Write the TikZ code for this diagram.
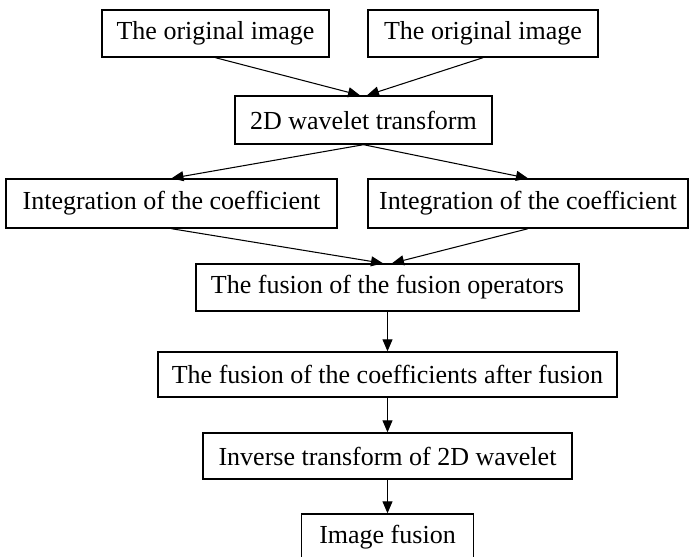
\documentclass[tikz,border=0pt]{standalone}
\usepackage{fontspec}
\setmainfont{Liberation Serif}
\usetikzlibrary{arrows.meta}

\begin{document}
\begin{tikzpicture}[
  x=0.02cm,y=-0.02cm,
  >={Triangle[length=2.4mm,width=2mm]},
  box/.style={draw,rectangle,minimum height=0.94cm,inner sep=0pt,line width=0.8pt,font=\fontsize{14.8}{17}\selectfont},
  link/.style={->,line width=0.6pt}]
      \useasboundingbox (0,0) rectangle (689,557);

      % inputs
      \node [box,minimum width=4.54cm] (orig1) at (215.5,33.5) {The original image};
      \node [box,minimum width=4.6cm] (orig2) at (483,33.5) {The original image};

      \node [box,minimum width=5.14cm,minimum height=0.96cm] (wt) at (363.5,120) {2D wavelet transform};

      \node [box,minimum width=6.62cm,minimum height=0.98cm] (coef1) at (171.5,203.5) {Integration of the coefficient};
      \node [box,minimum width=6.4cm,minimum height=0.98cm] (coef2) at (528,203.5) {Integration of the coefficient};

      % main chain
      \node [box,minimum width=7.66cm] (fuseop) at (387.5,287.5) {The fusion of the fusion operators};
      \node [box,minimum width=9.18cm,minimum height=0.9cm] (fusecoef) at (387.5,374.5) {The fusion of the coefficients after fusion};
      \node [box,minimum width=7.38cm,minimum height=0.92cm] (inv) at (387.5,456) {Inverse transform of 2D wavelet};
      \node [box,minimum width=3.44cm] (result) at (387.5,537.5) {Image fusion};

      \path [link]
	(orig1.south) edge ([xshift=-0.07cm]wt.north)
	(orig2.south) edge ([xshift=0.07cm]wt.north)
	(wt.south) edge (coef1.north)
	(wt.south) edge (coef2.north)
	(coef1.south) edge ([xshift=-0.09cm]fuseop.north)
	(coef2.south) edge ([xshift=0.09cm]fuseop.north)
	(fuseop) edge (fusecoef)
	(fusecoef) edge (inv)
	(inv) edge (result);

\end{tikzpicture}
\end{document}
